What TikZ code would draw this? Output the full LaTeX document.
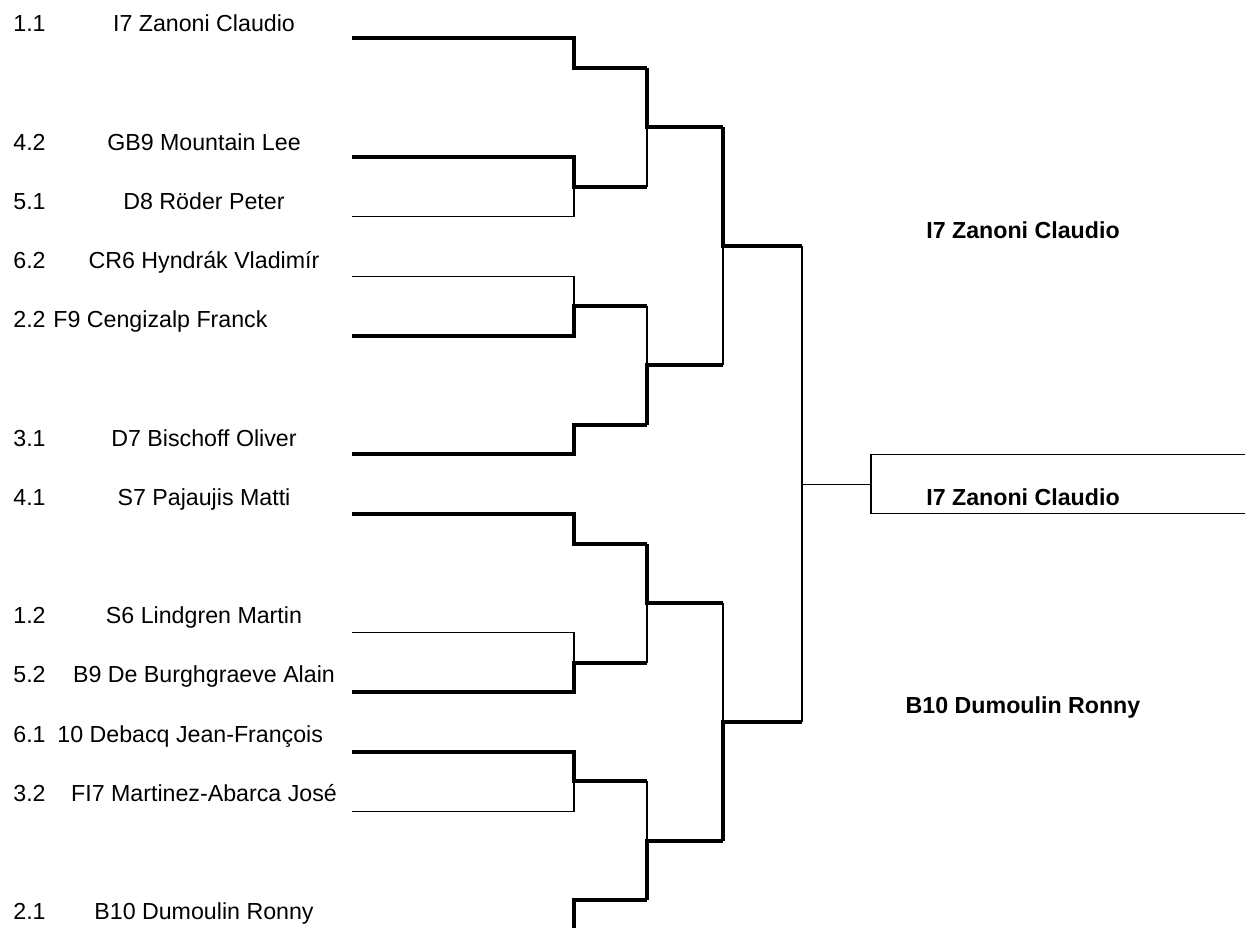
\documentclass[tikz,border=0pt]{standalone}
\usepackage{fontspec}
\setmainfont{Liberation Sans}
\usetikzlibrary{calc}
\begin{document}
\begin{tikzpicture}[x=0.5pt,y=-0.5pt,
  win/.style={line width=2pt},
  lose/.style={line width=0.6pt},
  bye/.style={draw=none},
  seed/.style={anchor=base west,inner sep=0pt,font=\fontsize{11.6}{14}\selectfont},
  player/.style={anchor=base,inner sep=0pt,font=\fontsize{11.6}{14}\selectfont},
  winner/.style={player,font=\fontsize{11.6}{14}\selectfont\bfseries}]
\useasboundingbox (0,0) rectangle (1245,927);
\clip (0,0) rectangle (1245,927);
\foreach \k in {0,...,15}{
  \pgfmathsetmacro\y{38.3+59.45*\k}
  \coordinate (l\k) at (352,\y);
  \coordinate (m\k) at (574,\y);
}
\foreach \k/\s/\n/\x/\a in {0/1.1/I7 Zanoni Claudio/204/base,
  2/4.2/GB9 Mountain Lee/204/base, 3/5.1/D8 Röder Peter/204/base,
  4/6.2/CR6 Hyndrák Vladimír/204/base, 5/2.2/F9 Cengizalp Franck/53/base west,
  7/3.1/D7 Bischoff Oliver/204/base, 8/4.1/S7 Pajaujis Matti/204/base,
  10/1.2/S6 Lindgren Martin/204/base, 11/5.2/B9 De Burghgraeve Alain/204/base,
  12/6.1/10 Debacq Jean-François/57/base west, 13/3.2/FI7 Martinez-Abarca José/204/base,
  15/2.1/B10 Dumoulin Ronny/204/base}{
  \pgfmathsetmacro\ty{31.7+59.2*\k}
  \node[seed] (s\k) at (13,\ty) {\s};
  \node[player,anchor=\a] (p\k) at (\x,\ty) {\n};
}
\foreach \j/\w/\l/\ls in {0/0/1/bye,1/2/3/lose,2/5/4/lose,3/7/6/bye,
  4/8/9/bye,5/11/10/lose,6/12/13/lose,7/15/14/bye}{
  \coordinate (a\j) at ($(m\w)!.5!(m\l)$);
  \coordinate (ai\j) at (a\j -| 647,0);
  \draw[win] (l\w) -- (m\w) -- (a\j) -- (ai\j);
  \draw[\ls] (l\l) -- (m\l) -- (a\j);
}
\foreach \j/\w/\l in {0/0/1,1/3/2,2/4/5,3/7/6}{
  \coordinate (b\j) at ($(ai\w)!.5!(ai\l)$);
  \coordinate (bi\j) at (b\j -| 723,0);
  \draw[win] (ai\w) -- (b\j) -- (bi\j);
  \draw[lose] (ai\l) -- (b\j);
}
\foreach \j/\w/\l in {0/0/1,1/3/2}{
  \coordinate (c\j) at ($(bi\w)!.5!(bi\l)$);
  \coordinate (ci\j) at (c\j -| 802,0);
  \draw[win] (bi\w) -- (c\j) -- (ci\j);
  \draw[lose] (bi\l) -- (c\j);
}
\coordinate (d) at ($(ci0)!.5!(ci1)$);
\coordinate (di) at (d -| 871,0);
\coordinate (ft) at ($(di)+(0,-29.7)$);
\coordinate (fb) at ($(di)+(0,29.7)$);
\draw[lose] (ci0) -- (ci1);
\draw[lose] (d) -- (di);
\draw[lose] (ft -| 1250,0) -- (ft) -- (fb) -- (fb -| 1250,0);
\node[winner] (w0) at (1023,238) {I7 Zanoni Claudio};
\node[winner] (w1) at (1023,505) {I7 Zanoni Claudio};
\node[winner] (w2) at (1023,713) {B10 Dumoulin Ronny};
\end{tikzpicture}
\end{document}
